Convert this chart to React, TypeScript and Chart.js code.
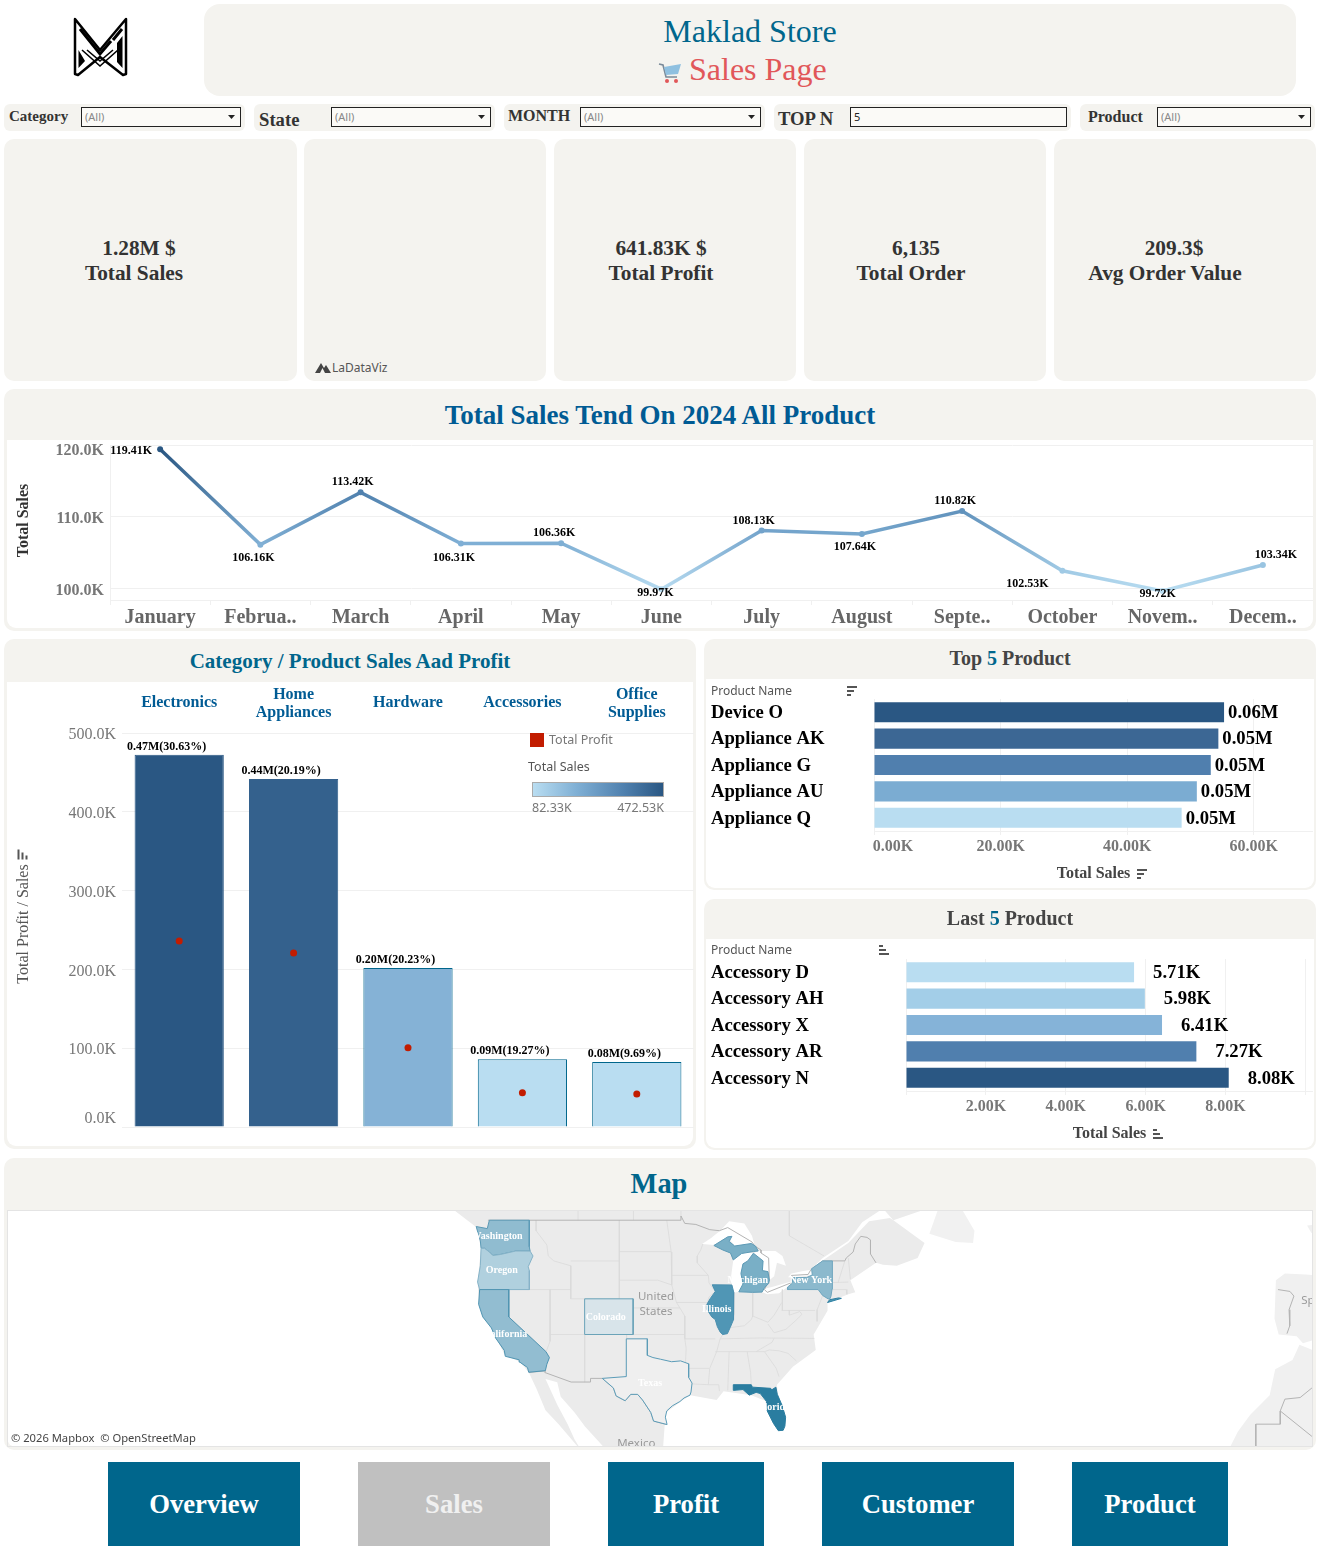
import { useEffect, useRef } from "react"
import { Chart, registerables } from "chart.js"

Chart.register(...registerables)

// Monthly trend
const months = ["January", "Februa..", "March", "April", "May", "June", "July", "August", "Septe..", "October", "Novem..", "Decem.."]
const monthlySales = [119410, 106160, 113420, 106310, 106360, 99970, 108130, 107640, 110820, 102530, 99720, 103340]
const monthlyLabels = ["119.41K", "106.16K", "113.42K", "106.31K", "106.36K", "99.97K", "108.13K", "107.64K", "110.82K", "102.53K", "99.72K", "103.34K"]
const monthlyLabelDx = [-29, -7, -8, -7, -7, -6, -8, -7, -7, -35, -5, 13]
const monthlyLabelDy = [2, 13, -10, 14, -10, 4, -10, 13, -10, 13, 3, -10]
const trendTicks = [100000, 110000, 120000]

// Category bars
const categories = ["Electronics", ["Home", "Appliances"], "Hardware", "Accessories", ["Office", "Supplies"]]
const categorySales = [472530, 441600, 201800, 86000, 82330]
const categoryProfit = [236000, 220800, 100700, 43500, 41900]
const categoryLabels = ["0.47M(30.63%)", "0.44M(20.19%)", "0.20M(20.23%)", "0.09M(19.27%)", "0.08M(9.69%)"]
const categoryColors = ["#2a5783", "#34618d", "#85b2d6", "#b9ddf1", "#b9ddf1"]
const categoryBorders = ["#2a5783", "#34618d", "#00668c", "#00668c", "#00668c"]
const categoryTicks = [0, 100000, 200000, 300000, 400000, 500000]

// Top and last products
const topProducts = ["Device O", "Appliance AK", "Appliance G", "Appliance AU", "Appliance Q"]
const topSales = [55300, 54400, 53200, 51000, 48600]
const topLabels = ["0.06M", "0.05M", "0.05M", "0.05M", "0.05M"]
const topColors = ["#2a5783", "#3c6794", "#507fae", "#7bacd2", "#b9ddf1"]
const topTicks = [0, 20000, 40000, 60000]

const lastProducts = ["Accessory D", "Accessory AH", "Accessory X", "Accessory AR", "Accessory N"]
const lastSales = [5710, 5980, 6410, 7270, 8080]
const lastLabels = ["5.71K", "5.98K", "6.41K", "7.27K", "8.08K"]
const lastColors = ["#b9ddf1", "#a3cee8", "#85b3d8", "#507fae", "#2a5783"]
const lastTicks = [0, 2000, 4000, 6000, 8000, 10000]

// Map geography, [longitude, latitude]
type Geo = number[][]
const northAmerica: Geo = [[-129, 51], [-128, 50], [-125, 48.5], [-124.7, 48.3], [-124, 46.3], [-124.5, 42.8], [-124.3, 40.4], [-122.5, 37.8], [-120.6, 34.6], [-118.4, 33.8], [-117.1, 32.5], [-116, 30.5], [-114.7, 27.8], [-112.8, 26], [-110, 23], [-109.5, 22.5], [-110.5, 24], [-111.5, 26], [-113, 28.5], [-114.7, 31.7], [-113, 31.3], [-112.5, 29.5], [-110.5, 27.5], [-109, 25.7], [-106.5, 23.2], [-105.7, 22], [-97.8, 22], [-97.5, 25.9], [-97.3, 27.5], [-95, 29], [-93.8, 29.7], [-90, 29.1], [-89, 30.2], [-85, 29.7], [-83, 29], [-82.7, 27.7], [-81.8, 26], [-81, 25.1], [-80.2, 25.5], [-80, 26.9], [-81.2, 30], [-81.3, 31], [-79, 33.2], [-75.7, 35.2], [-76, 37], [-74, 39.7], [-74, 40.6], [-71, 41.5], [-70, 41.7], [-70.7, 43], [-67, 44.8], [-66, 44.6], [-64, 44.5], [-61, 45.3], [-60, 46.8], [-64.5, 49], [-60, 50], [-58, 51]]
const newfoundland: Geo = [[-59.3, 47.7], [-55.5, 46.9], [-53, 46.8], [-52.8, 48], [-55.5, 51], [-57.5, 51]]
const iberia: Geo = [[-9.3, 43], [-9.5, 38.8], [-8.9, 37], [-6.3, 36.8], [-5.4, 36], [-2, 36.8], [0, 38.5], [0, 43.4], [-1.7, 43.4], [-5, 43.6], [-8, 43.7]]
const brittany: Geo = [[-4.8, 48.5], [-4.2, 47.8], [-3, 47.5], [-2, 47], [0, 47], [0, 49.7], [-2, 48.7]]
const africa: Geo = [[-5.9, 35.8], [-6.9, 34], [-9.4, 32.9], [-10.2, 29.7], [-13, 27.2], [-14.8, 25], [-17, 21], [0, 21], [0, 35.2], [-4, 35.2]]
const lakes: Geo[] = [
  [[-92.1, 46.7], [-90.4, 46.6], [-88.4, 47.4], [-87.4, 46.5], [-85, 46.75], [-84.5, 46.5], [-84.9, 47.5], [-86, 48.7], [-88.2, 48.9], [-89.5, 48], [-90.8, 47.3]],
  [[-87.8, 42.5], [-87.5, 41.65], [-86.8, 41.76], [-86.2, 42.6], [-86.5, 43.7], [-86.2, 44.7], [-85.5, 45], [-84.7, 45.78], [-86.4, 45.9], [-87.6, 45.1], [-87.9, 43.5]],
  [[-84.7, 45.78], [-83.3, 45], [-83.4, 44], [-82.6, 43.9], [-82.4, 43], [-81.7, 43.4], [-81.3, 44.8], [-80, 44.5], [-80.5, 45.5], [-81.5, 46], [-84, 46]],
  [[-83.45, 41.73], [-82.7, 41.5], [-81, 41.6], [-79, 42.7], [-79, 42.9], [-80.5, 42.6], [-81.9, 42.3], [-83.1, 42.1]],
  [[-79.7, 43.3], [-79, 43.27], [-76.2, 43.55], [-76.3, 44.1], [-77.5, 43.95], [-79.2, 43.7]],
  [[-76.3, 44.2], [-74.7, 45.05], [-71, 46.8], [-68, 48.9], [-65, 49.2], [-64.5, 49], [-66, 50.1], [-69, 48.8], [-71, 47], [-74.7, 45.3]],
]
const stateLines: Geo[] = [
  [[-116.05, 49], [-116.05, 48], [-114.5, 46.6], [-114.3, 45.5], [-113.5, 45], [-111.05, 44.5], [-111.05, 42]],
  [[-124.2, 42], [-111.05, 42]],
  [[-114.05, 42], [-114.05, 36.2], [-114.6, 35]],
  [[-120, 42], [-120, 39], [-114.6, 35], [-114.7, 32.7]],
  [[-111.05, 45], [-104.05, 45]],
  [[-111.05, 42], [-111.05, 41], [-104.05, 41]],
  [[-114.05, 37], [-94.6, 37]],
  [[-109.05, 37], [-109.05, 31.33]],
  [[-103, 37], [-103, 32]],
  [[-104.05, 49], [-104.05, 41]],
  [[-104.05, 45.94], [-96.56, 45.94]],
  [[-104.05, 43], [-98.5, 43], [-96.5, 42.5]],
  [[-102.05, 40], [-95.3, 40]],
  [[-97.2, 49], [-96.56, 45.9], [-96.45, 43.5], [-96.5, 42.5], [-95.8, 40.6], [-95.3, 40], [-94.6, 39.1], [-94.6, 36.5], [-94.4, 35.4], [-94.5, 33.6]],
  [[-96.45, 43.5], [-91.2, 43.5]],
  [[-95.8, 40.6], [-91.4, 40.6]],
  [[-92, 46.7], [-92.3, 46.1], [-92.8, 45.5], [-92.8, 44.8], [-91.2, 43.5], [-91.1, 42.7], [-90.2, 41.8], [-91.1, 41.2], [-91.4, 40.4], [-91.5, 40], [-90.2, 38.8], [-89.5, 37.3], [-89.1, 37], [-89.5, 36.5], [-90, 35], [-91, 33], [-91.2, 31], [-89.7, 31], [-89.6, 30.2]],
  [[-90.4, 46.6], [-88, 45.8], [-87.6, 45.1]],
  [[-87.8, 42.5], [-90.6, 42.5]],
  [[-87.5, 41.7], [-87.5, 39.3], [-88, 37.8]],
  [[-89.1, 37], [-88, 37.8], [-86, 38], [-85, 38.7], [-84.8, 39.1], [-82.6, 38.4], [-81.7, 39.2], [-80.6, 40.6]],
  [[-84.8, 41.7], [-84.8, 39.1]],
  [[-80.52, 42], [-80.52, 39.72], [-75.8, 39.72]],
  [[-79.5, 39.72], [-79.5, 39.2], [-78, 39.6], [-77.7, 39.3], [-78.3, 38.8], [-80, 37.6], [-81.7, 37.2], [-82.6, 38.2]],
  [[-89.5, 36.5], [-83.7, 36.6], [-75.9, 36.55]],
  [[-90.2, 35], [-84.3, 35], [-82, 36.1], [-81.7, 36.6]],
  [[-88.2, 35], [-88.4, 30.3]],
  [[-85.6, 35], [-85.1, 32.5], [-85, 31]],
  [[-84.3, 35], [-83.1, 35], [-82.4, 35.2], [-81, 35.1], [-79.7, 34.8], [-78.5, 33.9]],
  [[-83.1, 35], [-81.4, 33], [-81, 32]],
  [[-94.6, 36.5], [-90.2, 36.5]],
  [[-94, 33], [-91.1, 33]],
  [[-91.2, 31], [-93.6, 31.1]],
  [[-73.3, 45], [-73.5, 42], [-73.7, 41]],
  [[-71.5, 45], [-72.5, 42.7]],
  [[-71, 45.3], [-70.7, 43.1]],
  [[-73.5, 42], [-71.3, 42], [-71.2, 41.5]],
  [[-73.3, 42.75], [-71, 42.8]],
  [[-75.35, 42], [-74.7, 41.36], [-75.5, 39.8], [-75.5, 38.5]],
  [[-110, 49], [-110, 51]],
  [[-102, 49], [-102, 51]],
  [[-95.15, 49], [-95.15, 51]],
  [[-79.5, 51], [-79.5, 47.5], [-74.5, 45.5]],
]
const countryLines: Geo[] = [
  [[-123, 49], [-95.15, 49], [-95.15, 49.4], [-94.6, 48.7], [-93, 48.6], [-91, 48.1], [-89.6, 48], [-88.4, 48.3], [-84.9, 46.9], [-84.5, 46.5], [-83.6, 46.1], [-83.6, 45.8], [-82.5, 45.3], [-82.4, 43], [-82.9, 42.3], [-83.1, 42], [-82.7, 41.7], [-79, 42.8], [-79, 43.3], [-79.2, 43.5], [-76.8, 43.6], [-76.4, 44.1], [-74.7, 45], [-71.5, 45], [-71.3, 45.3], [-70.3, 45.9], [-70, 46.7], [-69.2, 47.45], [-68.3, 47.35], [-67.8, 47.1], [-67.8, 45.7], [-67, 44.8]],
  [[-117.1, 32.5], [-114.7, 32.7], [-114.8, 32.5], [-111, 31.33], [-108.2, 31.33], [-108.2, 31.78], [-106.5, 31.78], [-104.9, 30.6], [-104.5, 29.6], [-103.2, 29], [-102.4, 29.8], [-101.4, 29.8], [-100.7, 29.1], [-99.5, 27.5], [-99.1, 26.4], [-97.2, 25.95]],
  [[-9, 42], [-7.27, 41.8], [-6.7, 41.3], [-7.4, 39.8], [-7.3, 38], [-7.7, 37.1]],
  [[-4.1, 30.6], [-5.8, 29.4], [-8, 29.2], [-8.67, 27.7], [-4.1, 24.4]],
  [[-8.67, 27.7], [-8.67, 26], [-12.2, 26], [-12.2, 23.1]],
]
const washington: Geo = [[-124.7, 48.4], [-123.1, 48.2], [-122.8, 49], [-117.03, 49], [-117.04, 46.43], [-116.92, 45.99], [-118.98, 46], [-121.2, 45.65], [-122.3, 45.55], [-122.8, 45.9], [-123.5, 46.27], [-124, 46.27], [-124.1, 47]]
const oregon: Geo = [[-124, 46.27], [-123.5, 46.27], [-122.8, 45.9], [-122.3, 45.55], [-121.2, 45.65], [-118.98, 46], [-116.92, 45.99], [-116.5, 45.5], [-117.2, 44.4], [-117.03, 44], [-117.03, 42], [-124.2, 42], [-124.5, 42.8], [-124.1, 44.5]]
const california: Geo = [[-124.2, 42], [-120, 42], [-120, 39], [-114.63, 35], [-114.13, 34.3], [-114.5, 33.5], [-114.72, 32.72], [-117.12, 32.53], [-117.3, 33.1], [-118.4, 33.75], [-118.5, 34.03], [-120.5, 34.45], [-120.65, 35.15], [-121.9, 36.6], [-122.5, 37.75], [-123.75, 39], [-124.35, 40.4]]
const colorado: Geo = [[-109.05, 41], [-102.05, 41], [-102.05, 37], [-109.05, 37]]
const texas: Geo = [[-103.04, 36.5], [-100, 36.5], [-100, 34.56], [-99.2, 34.3], [-98.1, 34.1], [-96.5, 33.8], [-95.2, 33.9], [-94.04, 33.55], [-94.04, 33], [-94.04, 31.9], [-93.55, 31.2], [-93.7, 30.1], [-93.85, 29.7], [-94.7, 29.35], [-95.3, 28.9], [-96.4, 28.35], [-97.2, 27.7], [-97.4, 26.9], [-97.15, 25.95], [-99.1, 26.4], [-99.5, 27.5], [-100.7, 29.1], [-101.4, 29.8], [-102.4, 29.8], [-103.2, 29], [-104.5, 29.6], [-104.9, 30.6], [-106.5, 31.78], [-103.06, 32]]
const illinois: Geo = [[-90.64, 42.51], [-87.8, 42.49], [-87.53, 41.7], [-87.53, 39.35], [-87.6, 38.7], [-88.05, 37.8], [-88.45, 37.1], [-89.15, 37], [-89.5, 37.3], [-89.9, 37.9], [-90.2, 38.7], [-90.7, 39], [-91.45, 39.9], [-91.4, 40.4], [-90.95, 41], [-90.2, 41.8]]
const florida: Geo = [[-87.6, 31], [-85, 31], [-84.85, 30.7], [-82.2, 30.55], [-82.05, 30.36], [-81.45, 30.7], [-81.25, 29.8], [-80.55, 28.4], [-80.05, 26.9], [-80.15, 25.75], [-80.4, 25.2], [-81.1, 25.15], [-81.8, 26.1], [-82.7, 27.7], [-82.8, 28.9], [-83.7, 29.9], [-84.3, 30.05], [-85.3, 29.7], [-86.2, 30.4], [-87.5, 30.3]]
const newYork: Geo = [[-79.76, 42.27], [-79.76, 42], [-75.35, 42], [-74.7, 41.36], [-73.9, 40.99], [-73.65, 41], [-73.5, 41.3], [-73.35, 42.05], [-73.25, 43.6], [-73.35, 45], [-74.7, 45], [-76.3, 44.2], [-76.2, 43.55], [-77, 43.28], [-79.05, 43.27], [-79.05, 42.7]]
const longIsland: Geo = [[-74, 40.6], [-72, 41.05], [-72.4, 41.1], [-73.7, 40.9]]
const michiganUpper: Geo = [[-90.4, 46.55], [-88.4, 47.4], [-87.8, 47.45], [-88.2, 46.95], [-87.4, 46.5], [-85, 46.75], [-84.4, 46.5], [-84, 46], [-84.7, 45.95], [-86.4, 45.75], [-87.6, 45.1], [-88, 45.8], [-89.1, 46.1]]
const michiganLower: Geo = [[-86.8, 41.76], [-84.8, 41.7], [-83.45, 41.73], [-83.1, 42.2], [-82.5, 42.65], [-82.4, 43], [-82.6, 43.9], [-83.4, 44], [-83.3, 45], [-84.7, 45.78], [-85.5, 45], [-86.2, 44.7], [-86.5, 43.7], [-86.2, 42.6]]

const soldStates: Geo[] = [washington, oregon, california, colorado, texas, illinois, florida, newYork, longIsland, michiganUpper, michiganLower]
const soldStateFills = ["#90bcd0", "#b0d0de", "#92bdd1", "#d8e4ea", "#efefef", "#5096b5", "#2a7da0", "#8bb9cd", "#4d98b5", "#79afc6", "#79afc6"]
const soldStateLines = ["#5c9ab6", "#86b3c8", "#4f94b2", "#6aa3b8", "#5b9cb8", "#4a90b0", "#2a7da0", "#6ea6bf", "#2a7da0", "#5c9ab6", "#5c9ab6"]
const stateNames = ["Washington", "Oregon", "California", "Colorado", "Texas", "Illinois", "Michigan", "New York", "Florida"]
const stateNameLon = [-121.7, -121, -120.5, -106, -99.6, -90, -85.5, -76.4, -81.7]
const stateNameLat = [47.4, 44, 37, 39, 31.2, 39.8, 43, 43, 28.2]
const placeNames = ["United", "States", "Mexico", "Spain"]
const placeLon = [-98.75, -98.75, -101.6, -3.5]
const placeLat = [41.2, 39.6, 23.4, 40.8]

const SERIF = '"Liberation Serif", "Times New Roman", serif'
const SANS = '"Noto Sans", sans-serif'
const GRID = "#f0f0f0"
const PANEL = "#f4f3ef"
const TEAL = "#00668c"
const BLUE = "#005b94"

const serifFont = (size: number, weight: string = "normal") => ({ family: SERIF, size, weight, lineHeight: 1.15 })

const baseOptions: any = {
  responsive: false,
  animation: false,
  events: [],
  plugins: { legend: { display: false }, tooltip: { enabled: false } },
}

// fixes an axis thickness so the plot area lands where the reference has it
const fixedAxis = (size: number) => (s: any) => {
  if (s.isHorizontal()) s.height = size
  else s.width = size
  s.paddingLeft = s.paddingRight = s.paddingTop = s.paddingBottom = 0
}

// stepSize with a fixed min and max gets split evenly, so set the ticks directly
const ticksAt = (values: number[]) => (s: any) => {
  s.ticks = values.map((value) => ({ value }))
}

// shifts single tick labels, Tableau pulls the edge ones inside its pane
const nudgeTicks = (scaleId: string, shift: (label: any) => number[] | undefined) => ({
  id: "nudge-" + scaleId,
  beforeDraw(chart: any) {
    const items = chart.scales[scaleId].getLabelItems(chart.chartArea)
    if (items.nudged) return
    items.nudged = true
    items.forEach((item: any) => {
      const d = shift(item.label)
      if (d) {
        item.options.translation[0] += d[0]
        item.options.translation[1] += d[1]
      }
    })
  },
})

const markLabels = (id: string, dataset: number, texts: string[], font: string, place: (el: any, i: number) => number[], align: CanvasTextAlign = "center") => ({
  id,
  afterDatasetsDraw(chart: any) {
    const ctx = chart.ctx
    ctx.save()
    ctx.font = font
    ctx.fillStyle = "#000"
    ctx.textAlign = align
    ctx.textBaseline = "middle"
    chart.getDatasetMeta(dataset).data.forEach((el: any, i: number) => {
      const [x, y] = place(el, i)
      ctx.fillText(texts[i], x, y)
    })
    ctx.restore()
  },
})

// colour ramp of the sales legend
const rampStops = [
  [0, 185, 221, 241],
  [0.33, 128, 176, 213],
  [0.7, 79, 128, 174],
  [1, 42, 87, 131],
]
function ramp(t: number) {
  for (let i = 1; i < rampStops.length; i++) {
    const a = rampStops[i - 1]
    const b = rampStops[i]
    if (t <= b[0]) {
      const k = (t - a[0]) / (b[0] - a[0])
      return `rgb(${a[1] + (b[1] - a[1]) * k}, ${a[2] + (b[2] - a[2]) * k}, ${a[3] + (b[3] - a[3]) * k})`
    }
  }
  return "rgb(42, 87, 131)"
}
const salesT = (v: number) => (v - Math.min(...monthlySales)) / (Math.max(...monthlySales) - Math.min(...monthlySales))

function trendConfig(): any {
  return {
    type: "line",
    data: {
      labels: months,
      datasets: [
        {
          data: monthlySales,
          borderWidth: 3.5,
          pointRadius: 3,
          tension: 0,
          pointBackgroundColor: monthlySales.map((v) => ramp(salesT(v))),
          pointBorderWidth: 0,
          borderColor: (c: any) => {
            const { chart } = c
            if (!chart.chartArea) return "#7fadd3"
            const { left, right } = chart.chartArea
            const g = chart.ctx.createLinearGradient(left, 0, right, 0)
            monthlySales.forEach((v, i) => {
              g.addColorStop((chart.scales.x.getPixelForValue(i) - left) / (right - left), ramp(salesT(v)))
            })
            return g
          },
        },
      ],
    },
    options: {
      ...baseOptions,
      layout: { autoPadding: false, padding: { top: 5 } },
      scales: {
        x: {
          offset: true,
          afterFit: fixedAxis(28),
          border: { color: GRID },
          grid: { offset: true, drawOnChartArea: false, color: GRID, tickLength: 5 },
          ticks: { autoSkip: false, maxRotation: 0, padding: 1, color: "#666", font: serifFont(20, "bold") },
        },
        y: {
          min: 98470,
          max: 120000,
          afterFit: fixedAxis(102),
          afterBuildTicks: ticksAt(trendTicks),
          border: { color: GRID },
          grid: { color: GRID, tickLength: 0 },
          title: { display: true, text: " Total Sales", color: "#333", font: serifFont(16, "bold"), padding: { top: 7, bottom: 0 } },
          ticks: {
            autoSkip: false,
            padding: 6,
            color: "#777",
            font: serifFont(16, "bold"),
            callback: (v: any) => (v / 1000).toFixed(1) + "K",
          },
        },
      },
    },
    plugins: [
      nudgeTicks("y", (l) => (l === "120.0K" ? [0, 6] : [0, 2])),
      markLabels("trendLabels", 0, monthlyLabels, `bold 12px ${SERIF}`, (el, i) => [el.x + monthlyLabelDx[i], el.y + monthlyLabelDy[i]]),
    ],
  }
}

function categoryConfig(): any {
  return {
    type: "bar",
    data: {
      labels: categories,
      datasets: [
        {
          data: categorySales,
          order: 2,
          backgroundColor: categoryColors,
          borderColor: categoryBorders,
          borderWidth: 1,
          barPercentage: 0.78,
          categoryPercentage: 1,
        },
        {
          type: "line",
          data: categoryProfit,
          order: 1,
          showLine: false,
          pointRadius: 3.5,
          pointBorderWidth: 0,
          pointBackgroundColor: "#c21c00",
        },
      ],
    },
    options: {
      ...baseOptions,
      layout: { autoPadding: false, padding: { bottom: 19 } },
      scales: {
        x: {
          position: "top",
          afterFit: fixedAxis(50),
          border: { display: false },
          grid: { display: false },
          ticks: { autoSkip: false, maxRotation: 0, padding: 3, color: BLUE, font: serifFont(16, "bold") },
        },
        y: {
          min: 0,
          max: 500000,
          afterFit: fixedAxis(114),
          afterBuildTicks: ticksAt(categoryTicks),
          border: { display: false },
          grid: { color: GRID, tickLength: 0 },
          title: { display: true, text: "   Total Profit / Sales", color: "#555", font: serifFont(16), padding: { top: 7, bottom: 0 } },
          ticks: {
            autoSkip: false,
            padding: 6,
            color: "#777",
            font: serifFont(16),
            callback: (v: any) => (v / 1000).toFixed(1) + "K",
          },
        },
      },
    },
    plugins: [
      nudgeTicks("y", (l) => (l === "0.0K" ? [0, -8] : [0, 2])),
      nudgeTicks("x", (l) => (typeof l === "string" ? [0, -10] : undefined)),
      markLabels("categoryLabels", 0, categoryLabels, `bold 12px ${SERIF}`, (el) => [el.x - 12.5, el.y - 8]),
    ],
  }
}

function productConfig(names: string[], values: number[], colors: string[], labels: string[], axisWidth: number, max: number, tickValues: number[], gap: number, shown: (v: number) => boolean): any {
  return {
    type: "bar",
    data: {
      labels: names,
      datasets: [{ data: values, backgroundColor: colors, barPercentage: 0.76, categoryPercentage: 1 }],
    },
    options: {
      ...baseOptions,
      indexAxis: "y",
      layout: { autoPadding: false, padding: { top: 17 } },
      scales: {
        x: {
          min: 0,
          max,
          afterFit: fixedAxis(57),
          afterBuildTicks: ticksAt(tickValues),
          border: { color: GRID },
          grid: { color: GRID, tickLength: 4 },
          title: { display: true, text: "Total Sales", color: "#444", font: serifFont(16, "bold"), padding: { top: 0, bottom: 5 } },
          ticks: {
            maxRotation: 0,
            autoSkip: false,
            padding: 3,
            color: "#777",
            font: serifFont(16, "bold"),
            callback: (v: any) => (shown(v) ? (v / 1000).toFixed(2) + "K" : ""),
          },
        },
        y: {
          afterFit: fixedAxis(axisWidth),
          border: { display: false },
          grid: { display: false },
          ticks: { autoSkip: false, crossAlign: "far", color: "#000", font: serifFont(18.67, "bold") },
        },
      },
    },
    plugins: [
      nudgeTicks("x", (l) => (l === "0.00K" ? [19, 0] : undefined)),
      nudgeTicks("y", () => [0, 1]),
      markLabels("productLabels", 0, labels, `bold 18.67px ${SERIF}`, (el) => [el.x + gap, el.y + 1], "left"),
    ],
  }
}
const topConfig = () => productConfig(topProducts, topSales, topColors, topLabels, 163, 69350, topTicks, 4, () => true)
const lastConfig = () => productConfig(lastProducts, lastSales, lastColors, lastLabels, 195, 10190, lastTicks, 19, (v) => v > 0 && v < 10000)

// web mercator, the map pane is a plain linear scale over this
const merc = (lat: number) => (Math.log(Math.tan(Math.PI / 4 + (lat * Math.PI) / 360)) * 180) / Math.PI
const geoPoints = (g: Geo, close: boolean) => (close ? [...g, g[0]] : g).map(([lon, lat]) => ({ x: lon, y: merc(lat) }))

function mapConfig(): any {
  const area = (g: Geo, fillColor: string, line = "transparent", width = 0) => ({
    data: geoPoints(g, true),
    showLine: true,
    fill: "shape",
    backgroundColor: fillColor,
    borderColor: line,
    borderWidth: width,
    pointRadius: 0,
  })
  const path = (g: Geo, line: string, width: number) => ({
    data: geoPoints(g, false),
    showLine: true,
    fill: false,
    borderColor: line,
    borderWidth: width,
    pointRadius: 0,
  })
  const layers = [
    area(northAmerica, "#ebebeb"),
    area(newfoundland, "#f1f1f1"),
    area(iberia, "#f0f0f0"),
    area(brittany, "#f0f0f0"),
    area(africa, "#f0f0f0"),
    ...lakes.map((g) => area(g, "#ffffff")),
    ...stateLines.map((g) => path(g, "#dadada", 0.8)),
    ...countryLines.map((g) => path(g, "#b4b4b4", 1)),
    ...soldStates.map((g, i) => area(g, soldStateFills[i], soldStateLines[i], 1)),
  ]
  const names = {
    id: "mapNames",
    afterDatasetsDraw(chart: any) {
      const { ctx, scales } = chart
      const put = (text: string, lon: number, lat: number) =>
        ctx.fillText(text, scales.x.getPixelForValue(lon), scales.y.getPixelForValue(merc(lat)))
      ctx.save()
      ctx.textAlign = "center"
      ctx.textBaseline = "middle"
      ctx.font = `11.5px ${SANS}`
      ctx.fillStyle = "#9a9a9a"
      placeNames.forEach((n, i) => put(n, placeLon[i], placeLat[i]))
      ctx.font = `bold 10px ${SERIF}`
      ctx.fillStyle = "#fff"
      stateNames.forEach((n, i) => put(n, stateNameLon[i], stateNameLat[i]))
      ctx.restore()
    },
  }
  return {
    type: "scatter",
    // chart.js paints the first dataset last, so the stack goes in reversed
    data: { datasets: layers.reverse() },
    options: {
      ...baseOptions,
      layout: { autoPadding: false },
      scales: {
        x: { type: "linear", display: false, min: -192.26, max: -4.09 },
        y: { type: "linear", display: false, min: 23.79, max: 57.7 },
      },
    },
    plugins: [names],
  }
}

function ChartCanvas({ x, y, w, h, config }: { x: number; y: number; w: number; h: number; config: () => any }) {
  const ref = useRef<HTMLCanvasElement>(null)
  useEffect(() => {
    if (!ref.current) return
    const chart = new Chart(ref.current, config())
    return () => chart.destroy()
  }, [config])
  return <canvas ref={ref} width={w} height={h} style={{ position: "absolute", left: x, top: y, width: w, height: h }} />
}

function T({ x, y, size, color = "#333", bold = false, family = SERIF, align = "center", children }: any) {
  const tx = align === "center" ? "-50%" : align === "right" ? "-100%" : "0"
  return (
    <div
      style={{
        position: "absolute",
        left: x,
        top: y,
        transform: `translate(${tx}, -50%)`,
        fontFamily: family,
        fontSize: size,
        fontWeight: bold ? "bold" : "normal",
        color,
        whiteSpace: "pre",
        lineHeight: 1.15,
      }}
    >
      {children}
    </div>
  )
}

function Box({ x, y, w, h, bg = PANEL, r = 10, style }: any) {
  return <div style={{ position: "absolute", left: x, top: y, width: w, height: h, background: bg, borderRadius: r, ...style }} />
}

// beige rounded panel with a white body under its header strip
function Panel({ x, y, w, h, head, inset = 3 }: any) {
  return (
    <>
      <Box x={x} y={y} w={w} h={h} />
      <Box x={x + inset} y={y + head} w={w - inset * 2} h={h - head - inset} bg="#fff" r={0} style={{ borderRadius: "0 0 9px 9px" }} />
    </>
  )
}

function SortIcon({ x, y, asc = false, rotate = false }: any) {
  const widths = asc ? [4, 7, 10] : [10, 7, 4]
  return (
    <svg width="11" height="10" style={{ position: "absolute", left: x, top: y, transform: rotate ? "rotate(-90deg)" : undefined }}>
      {widths.map((w, i) => (
        <rect key={i} x="0" y={i * 4} width={w} height="2" fill="#555" />
      ))}
    </svg>
  )
}

function Filter({ x, w, label, labelSize, labelX, labelY, boxX, boxW, text = "(All)", arrow = true }: any) {
  return (
    <>
      <Box x={x} y={104} w={w} h={27} r={6} />
      <T x={labelX} y={labelY} size={labelSize} bold align="left">
        {label}
      </T>
      <div style={{ position: "absolute", left: boxX, top: 107, width: boxW - 2, height: 18, border: "1px solid #222", background: "#fbfaf7" }} />
      <T x={boxX + 4} y={117} size={11} color={arrow ? "#888" : "#222"} family={SANS} align="left">
        {text}
      </T>
      {arrow && (
        <svg width="7" height="4" style={{ position: "absolute", left: boxX + boxW - 13, top: 115 }}>
          <path d="M0 0 L7 0 L3.5 4 Z" fill="#222" />
        </svg>
      )}
    </>
  )
}

function Logo() {
  return (
    <svg width="60" height="64" viewBox="72 15 60 64" style={{ position: "absolute", left: 72, top: 15 }}>
      <path d="M75 19 L100 50 L126 19 L126 74 L123 75 L100 57 L78 75 L75 74 Z" fill="#fff" stroke="#000" strokeWidth="2.5" strokeLinejoin="round" />
      <path d="M80 29 L100 54 L111 41 M122 29 L113 40" fill="none" stroke="#000" strokeWidth="3" />
      <path d="M82 50 L100 66 L118 50" fill="none" stroke="#000" strokeWidth="1.6" />
      <path d="M87 50 L100 61 L113 50" fill="none" stroke="#000" strokeWidth="1.6" />
      <path d="M78.5 50 L78.5 68 L85 61 Z M122.5 36 L122.5 68 L117 62 L117 43 Z" fill="#000" />
    </svg>
  )
}

function Nav({ x, w, label, off = false }: any) {
  return (
    <>
      <Box x={x} y={1462} w={w} h={84} bg={off ? "#c0c0c0" : TEAL} r={0} />
      <T x={x + w / 2} y={1504} size={26.67} bold color={off ? "#f0f0f0" : "#fff"}>
        {label}
      </T>
    </>
  )
}

export default function App() {
  return (
    <div style={{ position: "absolute", left: 0, top: 0, width: 1319, height: 1549, overflow: "hidden", background: "#fff" }}>
      <Logo />
      <Box x={204} y={4} w={1092} h={92} r={16} />
      <T x={750} y={31} size={32} color={TEAL}>
        Maklad Store
      </T>
      <T x={689} y={69} size={32} color="#e15759" align="left">
        Sales Page
      </T>
      <svg width="24" height="24" viewBox="0 0 24 24" style={{ position: "absolute", left: 658, top: 61 }}>
        <path d="M1 3 L5 4 L8 16 L19 16" fill="none" stroke="#7a8a99" strokeWidth="1.6" />
        <path d="M6 6 L23 3 L20 13 L8 14 Z" fill="#8fc0e0" />
        <circle cx="9" cy="20" r="2" fill="#e15759" />
        <circle cx="18" cy="20" r="2" fill="#e15759" />
      </svg>

      <Filter x={4} w={241} label="Category" labelSize={15} labelX={9} labelY={117} boxX={81} boxW={160} />
      <Filter x={254} w={241} label="State" labelSize={18.67} labelX={259} labelY={120} boxX={331} boxW={160} />
      <Filter x={504} w={261} label="MONTH" labelSize={16} labelX={508} labelY={116} boxX={580} boxW={181} />
      <Filter x={774} w={297} label="TOP N" labelSize={18.67} labelX={778} labelY={119} boxX={850} boxW={217} text="5" arrow={false} />
      <Filter x={1080} w={235} label="Product" labelSize={16} labelX={1088} labelY={117} boxX={1157} boxW={154} />

      <Box x={4} y={139} w={293} h={242} />
      <Box x={304} y={139} w={242} h={242} />
      <Box x={554} y={139} w={242} h={242} />
      <Box x={804} y={139} w={242} h={242} />
      <Box x={1054} y={139} w={262} h={242} />
      <T x={139} y={248} size={21.33} bold>1.28M $</T>
      <T x={134} y={273} size={21.33} bold>Total Sales</T>
      <T x={661} y={248} size={21.33} bold>641.83K $</T>
      <T x={661} y={273} size={21.33} bold>Total Profit</T>
      <T x={916} y={248} size={21.33} bold>6,135</T>
      <T x={911} y={273} size={21.33} bold>Total Order</T>
      <T x={1174} y={248} size={21.33} bold>209.3$</T>
      <T x={1165} y={273} size={21.33} bold>Avg Order Value</T>
      <svg width="16" height="11" style={{ position: "absolute", left: 315, top: 362 }}>
        <path d="M0 11 L6 1 L9 6 L11 3 L16 11 Z M5 11 L7.5 6 L10 11 Z" fill="#444" fillRule="evenodd" />
      </svg>
      <T x={332} y={368} size={12} color="#555" family={SANS} align="left">LaDataViz</T>

      <Panel x={4} y={389} w={1312} h={242} head={51} />
      <T x={660} y={416} size={27} bold color={BLUE}>Total Sales Tend On 2024 All Product</T>
      <ChartCanvas x={8} y={440} w={1305} h={188} config={trendConfig} />

      <Panel x={4} y={639} w={692} h={510} head={43} />
      <T x={350} y={661} size={21} bold color={TEAL}>Category / Product Sales Aad Profit</T>
      <ChartCanvas x={8} y={683} w={686} h={463} config={categoryConfig} />
      <SortIcon x={17} y={849} rotate />
      <Box x={530} y={733} w={14} h={14} bg="#c21c00" r={0} />
      <T x={549} y={740} size={12.5} color="#777" family={SANS} align="left">Total Profit</T>
      <T x={528} y={767} size={12.5} color="#555" family={SANS} align="left">Total Sales</T>
      <div style={{ position: "absolute", left: 532, top: 782, width: 130, height: 13, border: "1px solid #aaa", background: "linear-gradient(90deg, #b9ddf1, #80b0d5 33%, #4f80ae 70%, #2a5783)" }} />
      <T x={532} y={808} size={12.5} color="#777" family={SANS} align="left">82.33K</T>
      <T x={664} y={808} size={12.5} color="#777" family={SANS} align="right">472.53K</T>

      <Panel x={704} y={639} w={612} h={251} head={40} inset={2} />
      <T x={1010} y={658} size={20} bold color="#444">
        Top <span style={{ color: TEAL }}>5</span> Product
      </T>
      <ChartCanvas x={711} y={682} w={602} h={206} config={topConfig} />
      <T x={711} y={691} size={12} color="#555" family={SANS} align="left">Product Name</T>
      <SortIcon x={847} y={686} />
      <SortIcon x={1137} y={869} />

      <Panel x={704} y={899} w={612} h={251} head={40} inset={2} />
      <T x={1010} y={918} size={20} bold color="#444">
        Last <span style={{ color: TEAL }}>5</span> Product
      </T>
      <ChartCanvas x={711} y={942} w={602} h={206} config={lastConfig} />
      <T x={711} y={950} size={12} color="#555" family={SANS} align="left">Product Name</T>
      <SortIcon x={879} y={945} asc />
      <SortIcon x={1153} y={1129} asc />

      <Panel x={4} y={1158} w={1312} h={292} head={52} />
      <T x={659} y={1184} size={28.4} bold color={TEAL}>Map</T>
      <div style={{ position: "absolute", left: 7, top: 1210, width: 1304, height: 235, border: "1px solid #e4e4e4" }} />
      <ChartCanvas x={8} y={1211} w={1304} h={235} config={mapConfig} />
      <T x={11} y={1438} size={11.2} color="#444" family={SANS} align="left">© 2026 Mapbox  © OpenStreetMap</T>

      <Nav x={108} w={192} label="Overview" />
      <Nav x={358} w={192} label="Sales" off />
      <Nav x={608} w={156} label="Profit" />
      <Nav x={822} w={192} label="Customer" />
      <Nav x={1072} w={156} label="Product" />
    </div>
  )
}
